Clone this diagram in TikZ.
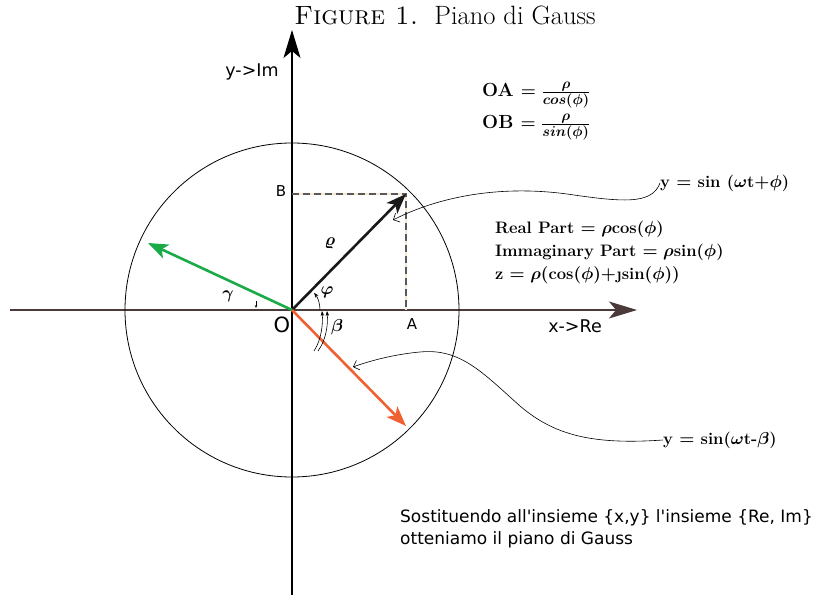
\documentclass[tikz,border=0pt]{standalone}
\usepackage{fontspec}
\usepackage{amsmath}
\usetikzlibrary{arrows.meta}
\newfontfamily\verdfont{DejaVu Sans}
\definecolor{axiscol}{RGB}{75,58,58}
\definecolor{vecgreen}{RGB}{26,170,72}
\definecolor{vecorange}{RGB}{240,96,48}
\definecolor{beige}{RGB}{247,232,208}

\begin{document}
\begin{tikzpicture}[x=1pt,y=1pt,
  every node/.style={inner sep=0pt},
  axis/.style={line width=1.3pt,-{Stealth[length=28pt,width=17pt,inset=7pt]}},
  vec/.style={line width=2.6pt,-{Stealth[length=20pt,width=15pt,inset=5pt]}},
  proj/.style={line width=1.5pt},
  curvy/.style={line width=0.6pt,-{Straight Barb[length=5pt,width=10pt]}},
  anglemark/.style={line width=0.6pt,-{Stealth[length=5pt,width=3.5pt]}},
  sanslabel/.style={font=\verdfont\fontsize{17.5}{20}\selectfont},
  greek/.style={font=\fontsize{18}{20}\selectfont\boldmath},
  formula/.style={font=\fontsize{16.6}{23}\selectfont\bfseries\boldmath,align=left,anchor=west}
]
  \useasboundingbox (-292,-284) rectangle (532,310);

  % titolo
  \node[font=\fontsize{26.5}{30}\selectfont] (title) at (153,295) {\textsc{Figure 1.}\ \ Piano di Gauss};

  % assi e cerchio
  \coordinate (O) at (0,0);
  \coordinate (xl) at (-282,0);
  \coordinate (xr) at (345,0);
  \coordinate (yb) at (0,-286);
  \coordinate (yt) at (0,280);
  \draw[axis,draw=axiscol,fill=axiscol] (xl) -- (xr);
  \draw[axis] (yb) -- (yt);
  \draw[line width=0.8pt] (O) circle (167);

  % proiezioni
  \coordinate (P) at (114,116);
  \coordinate (A) at (114,0);
  \coordinate (B) at (0,116);
  \draw[proj,beige] (B) -- (P) -- (A);
  \draw[proj,black!65,dash pattern=on 7pt off 4pt] (B) -- (P) -- (A);

  % vettori
  \coordinate (G) at (-144,67);
  \coordinate (R) at (114,-116);
  \draw[vec,black!90] (O) -- (P);
  \draw[vec,vecgreen] (O) -- (G);
  \draw[vec,vecorange] (O) -- (R);

  % angoli
  \draw[anglemark] (28,0) arc[start angle=0,end angle=38,radius=28];
  \draw[anglemark] (22,-41) .. controls (30,-29) and (31,-12) .. (30,-1);
  \draw[anglemark] (26,-41) .. controls (35,-29) and (36,-12) .. (35,-1);
  \draw[anglemark,-{Stealth[length=3pt,width=2.5pt]}] (-36,9) -- (-36,2);

  % etichette
  \node[sanslabel] (ylab) at (-40,238) {y->Im};
  \node[sanslabel] (xlab) at (283,-16) {x->Re};
  \node[sanslabel,font=\verdfont\fontsize{15}{17}\selectfont] (blab) at (-11,119) {B};
  \node[sanslabel,font=\verdfont\fontsize{15}{17}\selectfont] (alab) at (120,-14) {A};
  \node[font=\verdfont\fontsize{21}{22}\selectfont] (olab) at (-10,-15) {O};
  \node[greek] (rholab) at (38,67) {$\varrho$};
  \node[greek] (philab) at (35,18) {$\varphi$};
  \node[greek] (betalab) at (45,-17) {$\beta$};
  \node[greek] (gammalab) at (-64,14) {$\gamma$};

  % formule
  \node[formula,font=\fontsize{19}{23}\selectfont\bfseries\boldmath] (oa) at (190,215) {OA $= \frac{\rho}{cos(\phi)}$};
  \node[formula,font=\fontsize{19}{23}\selectfont\bfseries\boldmath] (ob) at (190,183) {OB $= \frac{\rho}{sin(\phi)}$};
  \node[formula] (parts) at (203,58) {Real Part $= \rho$cos($\phi$)\\
    Immaginary Part $= \rho$sin($\phi$)\\
    z $= \rho($cos$(\phi)+$\j{}sin$(\phi))$};
  \node[formula] (eq1) at (368,127) {y $=$ sin ($\omega$t$+\phi$)};
  \node[formula] (eq2) at (371,-130) {y $=$ sin($\omega$t-$\beta$)};

  % richiami
  \coordinate (t1) at (101,90);
  \coordinate (t2) at (61,-57);
  \draw[curvy] (eq1.west) .. controls (360,105) and (330,108) .. (275,116)
    .. controls (200,126) and (140,110) .. (t1);
  \draw[curvy] (eq2.west) .. controls (300,-135) and (262,-125) .. (228,-96)
    .. controls (190,-62) and (168,-38) .. (128,-42)
    .. controls (105,-44) and (80,-50) .. (t2);

  \node[anchor=west,align=left,font=\verdfont\fontsize{17}{22}\selectfont] (note) at (108,-219)
    {Sostituendo all\textquotesingle insieme \{x,y\} l\textquotesingle insieme \{Re, Im\}\\
     otteniamo il piano di Gauss};
\end{tikzpicture}
\end{document}
